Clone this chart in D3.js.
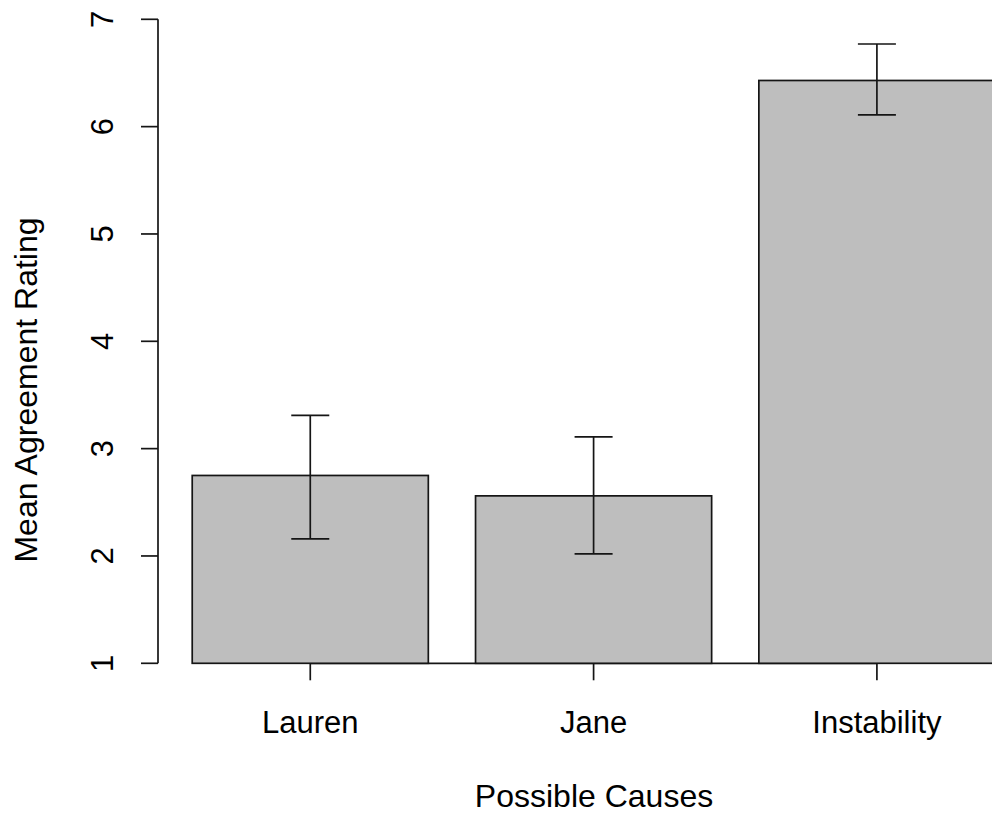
<!DOCTYPE html>
<html>
<head>
<meta charset="utf-8">
<script src="https://cdn.jsdelivr.net/npm/d3@7"></script>
<style>
  html, body { margin: 0; padding: 0; background: #fff; }
  svg { display: block; }
  text { font-family: "Liberation Sans", Arial, sans-serif; fill: #000; }
</style>
</head>
<body>
<script>
const categories = ["Lauren", "Jane", "Instability"];
const means = [2.75, 2.56, 6.43];
const lower = [2.16, 2.02, 6.11];
const upper = [3.31, 3.11, 6.77];
const yTicks = [1, 2, 3, 4, 5, 6, 7];
const xTitle = "Possible Causes";
const yTitle = "Mean Agreement Rating";

const W = 992, H = 815;
const svg = d3.select("body").append("svg").attr("width", W).attr("height", H);

// bar layout like R barplot (width 1, space 0.2)
const barW = 1, space = 0.2;
const lefts = categories.map((d, i) => space + i * (barW + space));
const centers = lefts.map(l => l + barW / 2);

const x = d3.scaleLinear().domain([0, 3.6]).range([145.0, 145.0 + 3.6 * 236.1]);
const y = d3.scaleLinear().domain([1, 7]).range([663.3, 19.3]);

const stroke = "#151515", lw = 1.7, fs = 31, fsTitle = 32;

// x axis line (between first and last tick)
svg.append("line")
  .attr("x1", x(centers[0])).attr("x2", x(centers[centers.length - 1]))
  .attr("y1", y(1)).attr("y2", y(1))
  .attr("stroke", stroke).attr("stroke-width", lw);

// bars
svg.selectAll("rect.bar").data(categories).join("rect")
  .attr("class", "bar")
  .attr("x", (d, i) => x(lefts[i]))
  .attr("width", (d, i) => x(lefts[i] + barW) - x(lefts[i]))
  .attr("y", (d, i) => y(means[i]))
  .attr("height", (d, i) => y(1) - y(means[i]))
  .attr("fill", "#bebebe").attr("stroke", stroke).attr("stroke-width", lw);

// error bars
const capHalf = 0.0805; // in bar-width units
const eb = svg.append("g").attr("stroke", stroke).attr("stroke-width", lw);
categories.forEach((d, i) => {
  const cx = x(centers[i]);
  eb.append("line").attr("x1", cx).attr("x2", cx).attr("y1", y(lower[i])).attr("y2", y(upper[i]));
  eb.append("line").attr("x1", x(centers[i] - capHalf)).attr("x2", x(centers[i] + capHalf)).attr("y1", y(upper[i])).attr("y2", y(upper[i]));
  eb.append("line").attr("x1", x(centers[i] - capHalf)).attr("x2", x(centers[i] + capHalf)).attr("y1", y(lower[i])).attr("y2", y(lower[i]));
});

// x ticks + labels
const xt = svg.append("g");
categories.forEach((d, i) => {
  const cx = x(centers[i]);
  xt.append("line").attr("x1", cx).attr("x2", cx).attr("y1", y(1)).attr("y2", y(1) + 17)
    .attr("stroke", stroke).attr("stroke-width", lw);
  xt.append("text").attr("x", cx).attr("y", 733).attr("text-anchor", "middle")
    .attr("font-size", fs).text(d);
});

// y axis
const axisX = 158;
svg.append("line").attr("x1", axisX).attr("x2", axisX).attr("y1", y(7)).attr("y2", y(1))
  .attr("stroke", stroke).attr("stroke-width", lw);
yTicks.forEach(t => {
  svg.append("line").attr("x1", axisX - 17).attr("x2", axisX).attr("y1", y(t)).attr("y2", y(t))
    .attr("stroke", stroke).attr("stroke-width", lw);
  svg.append("text").attr("transform", `translate(113,${y(t)}) rotate(-90)`)
    .attr("text-anchor", "middle").attr("font-size", fs).text(t);
});

// titles
svg.append("text").attr("x", 594).attr("y", 807).attr("text-anchor", "middle")
  .attr("font-size", fsTitle).text(xTitle);
svg.append("text").attr("transform", "translate(37,390) rotate(-90)")
  .attr("text-anchor", "middle").attr("font-size", fsTitle).text(yTitle);
</script>
</body>
</html>
